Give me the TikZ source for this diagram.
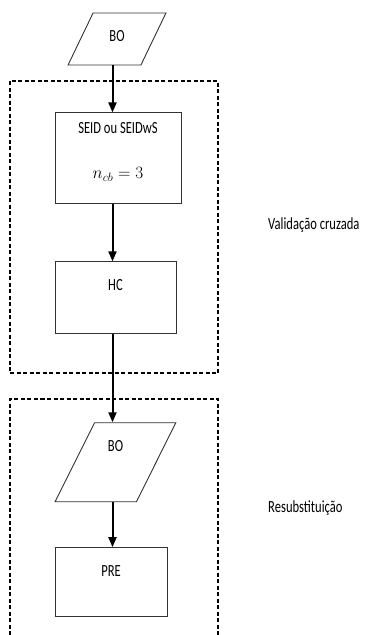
\documentclass[tikz,border=0pt]{standalone}
\usepackage{fontspec}
\setmainfont{Carlito}[FakeStretch=0.74]
\usetikzlibrary{shapes.geometric,arrows.meta,positioning}

\begin{document}
\begin{tikzpicture}[
    x=1pt, y=-1pt,
    font=\fontsize{17}{20}\selectfont,
    process/.style={rectangle, draw=black!80, line width=0.9pt, inner sep=0pt, align=center},
    data/.style={trapezium, trapezium stretches=true, draw=black!80, line width=0.9pt, inner sep=0pt, text height=11pt},
    group/.style={draw, dash pattern=on 4pt off 2.5pt, line width=1.5pt},
    arrow/.style={->, >={Triangle[length=10pt,width=8pt]}, line width=2pt}
]
    \useasboundingbox (0,0) rectangle (365,635);

    \coordinate (spine) at (112.5,0);
    \node[data, trapezium left angle=65, trapezium right angle=115, minimum width=98pt, minimum height=52pt, text depth=6pt] (bo1) at (117,39) {BO};
    \node[process, below=47pt of bo1, xshift=1pt, minimum width=126pt, minimum height=91pt] (seid) {SEID ou SEIDwS\\[25pt]$n_{cb} = 3$\rule[-16pt]{0pt}{16pt}};
    \node[process, below=57pt of seid, xshift=-2.5pt, text height=11pt, minimum width=121pt, minimum height=72pt, text depth=26pt] (hc) {HC};
    \node[data, below=88pt of hc, trapezium left angle=72, trapezium right angle=108, minimum width=121pt, minimum height=79pt, text depth=33pt] (bo2) {BO};
    \node[process, below=45pt of bo2, xshift=-4.5pt, text height=11pt, minimum width=112pt, minimum height=69pt, text depth=23pt] (pre) {PRE};

    % grupos
    \draw[group] (10,81) rectangle (218,373);
    \draw[group] (10,635) |- (218,399) -- (218,635);
    \node[anchor=west, inner sep=0pt] (cv) at (268,225) {Validação cruzada};
    \node[anchor=west, inner sep=0pt] (rs) at (268,508) {Resubstituição};

    \draw[arrow] (bo1.south -| spine) -- (seid.north -| spine);
    \draw[arrow] (seid.south -| spine) -- (hc.north -| spine);
    \draw[arrow] (hc.south -| spine) -- (bo2.north -| spine);
    \draw[arrow] (bo2.south -| spine) -- (pre.north -| spine);
\end{tikzpicture}
\end{document}
